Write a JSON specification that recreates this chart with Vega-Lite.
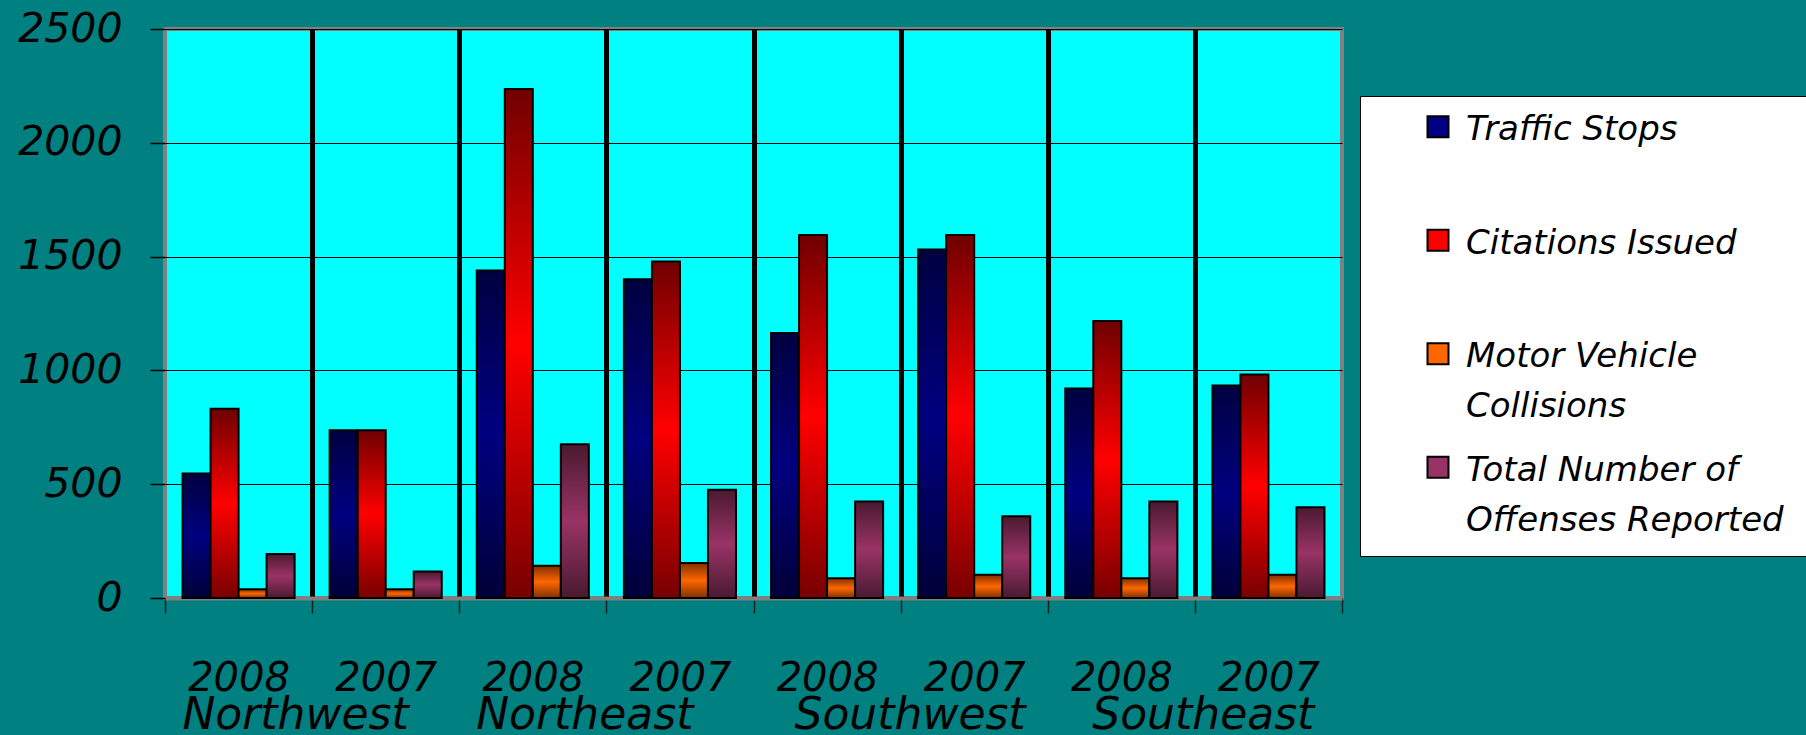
{
  "$schema": "https://vega.github.io/schema/vega-lite/v6.json",
  "autosize": {"type": "none"},
  "width": 1177,
  "height": 569,
  "padding": {"left": 165, "top": 29, "right": 464, "bottom": 137},
  "background": "#008080",
  "config": {
    "font": "DejaVu Sans",
    "view": {"fill": "#00FFFF", "stroke": "#808080", "strokeWidth": 4},
    "style": {"guide-label": {"lineHeight": 50}},
    "axisY": {
      "labelFontSize": 41, "labelFontStyle": "italic", "labelColor": "black", "labelPadding": 28,
      "tickSize": 15, "tickColor": "black", "tickWidth": 1.5, "domain": false,
      "grid": true, "gridColor": "black", "gridWidth": 1
    }
  },
  "data": {"values": [
    {"group": "Northwest|2008", "series": "Traffic Stops", "value": 547},
    {"group": "Northwest|2008", "series": "Citations Issued", "value": 831},
    {"group": "Northwest|2008", "series": "Motor Vehicle Collisions", "value": 38},
    {"group": "Northwest|2008", "series": "Total Number of Offenses Reported", "value": 193},
    {"group": "Northwest|2007", "series": "Traffic Stops", "value": 737},
    {"group": "Northwest|2007", "series": "Citations Issued", "value": 737},
    {"group": "Northwest|2007", "series": "Motor Vehicle Collisions", "value": 38},
    {"group": "Northwest|2007", "series": "Total Number of Offenses Reported", "value": 116},
    {"group": "Northeast|2008", "series": "Traffic Stops", "value": 1439},
    {"group": "Northeast|2008", "series": "Citations Issued", "value": 2236},
    {"group": "Northeast|2008", "series": "Motor Vehicle Collisions", "value": 142},
    {"group": "Northeast|2008", "series": "Total Number of Offenses Reported", "value": 675},
    {"group": "Northeast|2007", "series": "Traffic Stops", "value": 1401},
    {"group": "Northeast|2007", "series": "Citations Issued", "value": 1478},
    {"group": "Northeast|2007", "series": "Motor Vehicle Collisions", "value": 154},
    {"group": "Northeast|2007", "series": "Total Number of Offenses Reported", "value": 476},
    {"group": "Southwest|2008", "series": "Traffic Stops", "value": 1164},
    {"group": "Southwest|2008", "series": "Citations Issued", "value": 1595},
    {"group": "Southwest|2008", "series": "Motor Vehicle Collisions", "value": 87},
    {"group": "Southwest|2008", "series": "Total Number of Offenses Reported", "value": 424},
    {"group": "Southwest|2007", "series": "Traffic Stops", "value": 1531},
    {"group": "Southwest|2007", "series": "Citations Issued", "value": 1595},
    {"group": "Southwest|2007", "series": "Motor Vehicle Collisions", "value": 102},
    {"group": "Southwest|2007", "series": "Total Number of Offenses Reported", "value": 359},
    {"group": "Southeast|2008", "series": "Traffic Stops", "value": 920},
    {"group": "Southeast|2008", "series": "Citations Issued", "value": 1217},
    {"group": "Southeast|2008", "series": "Motor Vehicle Collisions", "value": 87},
    {"group": "Southeast|2008", "series": "Total Number of Offenses Reported", "value": 424},
    {"group": "Southeast|2007", "series": "Traffic Stops", "value": 934},
    {"group": "Southeast|2007", "series": "Citations Issued", "value": 982},
    {"group": "Southeast|2007", "series": "Motor Vehicle Collisions", "value": 102},
    {"group": "Southeast|2007", "series": "Total Number of Offenses Reported", "value": 399}
  ]},
  "resolve": {"axis": {"x": "independent"}},
  "layer": [
    {
      "mark": {"type": "bar"},
      "encoding": {
        "x": {"field": "group", "type": "nominal",
          "scale": {"domain": ["Northwest|2008","Northwest|2007","Northeast|2008","Northeast|2007","Southwest|2008","Southwest|2007","Southeast|2008","Southeast|2007"], "paddingInner": 0, "paddingOuter": 0},
          "axis": {"orient": "bottom", "title": null, "labelExpr": "split(datum.value, '|')[1]", "labelAngle": 0,
            "labelFontSize": 40, "labelFontStyle": "italic", "labelColor": "black", "labelPadding": 45, "labelLimit": 500,
            "tickBand": "extent", "ticks": true, "tickSize": 15, "tickColor": "#202020", "tickWidth": 1.5,
            "domain": true, "domainColor": "#808080", "domainWidth": 4,
            "grid": true, "gridColor": "black", "gridWidth": 5,
            "gridOpacity": {"condition": {"test": "datum.value != 'Southeast|2007' && !datum.extra && datum.index < 1", "value": 1}, "value": 0}}},
        "xOffset": {"field": "series", "type": "nominal",
          "scale": {"domain": ["Traffic Stops","Citations Issued","Motor Vehicle Collisions","Total Number of Offenses Reported"], "paddingInner": 0, "paddingOuter": 0.625}},
        "y": {"field": "value", "type": "quantitative", "scale": {"domain": [0, 2500], "nice": false},
          "axis": {"title": null, "values": [0, 500, 1000, 1500, 2000, 2500], "format": "d"}},
        "color": {"field": "series", "type": "nominal",
          "scale": {"domain": ["Traffic Stops","Citations Issued","Motor Vehicle Collisions","Total Number of Offenses Reported"], "range": ["#000080","#FF0000","#FF6600","#993366"]},
          "legend": {
            "orient": "none", "legendX": 1195, "legendY": 67,
            "title": "\u00a0", "titleOrient": "bottom", "titleFontSize": 8, "titlePadding": 10,
            "fillColor": "white", "strokeColor": "black", "padding": 0,
            "gridAlign": "all", "rowPadding": 12.5,
            "symbolType": "M-1,0.31H1V2.31H-1Z", "symbolSize": 441, "symbolStrokeColor": "black", "symbolStrokeWidth": 2, "symbolOpacity": 1, "symbolOffset": 61,
            "labelFont": "DejaVu Sans", "labelFontStyle": "italic", "labelFontSize": 34, "labelColor": "black",
            "labelBaseline": "top", "labelLimit": 700, "labelOffset": 11,
            "labelExpr": "datum.label == 'Motor Vehicle Collisions' ? ['Motor Vehicle', 'Collisions'] : datum.label == 'Total Number of Offenses Reported' ? ['Total Number of', 'Offenses Reported\u2800\u2800'] : datum.label"
          }}
      }
    },
    {
      "transform": [{"filter": {"field": "series", "equal": "Traffic Stops"}}],
      "mark": {"type": "bar", "stroke": "black", "strokeWidth": 2,
        "fill": {"gradient": "linear", "x1": 0, "y1": 0, "x2": 0, "y2": 1, "stops": [{"offset": 0, "color": "#000040"}, {"offset": 0.5, "color": "#000080"}, {"offset": 1, "color": "#000038"}]}},
      "encoding": {
        "x": {"field": "group", "type": "nominal",
          "scale": {"domain": ["Northwest|2008","Northwest|2007","Northeast|2008","Northeast|2007","Southwest|2008","Southwest|2007","Southeast|2008","Southeast|2007"], "paddingInner": 0, "paddingOuter": 0},
          "axis": {"orient": "bottom", "title": null, "labelExpr": "indexof(datum.value, '2008') >= 0 ? split(datum.value, '|')[0] : ''", "labelAngle": 0,
            "labelFontSize": 44, "labelFontStyle": "italic", "labelColor": "black", "labelPadding": 80, "labelLimit": 600, "labelOverlap": false,
            "labelOffset": {"condition": [
              {"test": "datum.value == 'Northwest|2008'", "value": 57},
              {"test": "datum.value == 'Northeast|2008'", "value": 52},
              {"test": "datum.value == 'Southwest|2008'", "value": 83}
            ], "value": 82},
            "ticks": true, "tickSize": 15, "tickOpacity": 0, "domain": false, "grid": false}},
        "xOffset": {"field": "series", "type": "nominal",
          "scale": {"domain": ["Traffic Stops","Citations Issued","Motor Vehicle Collisions","Total Number of Offenses Reported"], "paddingInner": 0, "paddingOuter": 0.625}},
        "y": {"field": "value", "type": "quantitative", "scale": {"domain": [0, 2500], "nice": false},
          "axis": {"title": null, "values": [0, 500, 1000, 1500, 2000, 2500], "format": "d"}}
      }
    },
    {
      "transform": [{"filter": {"field": "series", "equal": "Citations Issued"}}],
      "mark": {"type": "bar", "stroke": "black", "strokeWidth": 2,
        "fill": {"gradient": "linear", "x1": 0, "y1": 0, "x2": 0, "y2": 1, "stops": [{"offset": 0, "color": "#700000"}, {"offset": 0.5, "color": "#FF0000"}, {"offset": 1, "color": "#780000"}]}},
      "encoding": {
        "x": {"field": "group", "type": "nominal",
          "scale": {"domain": ["Northwest|2008","Northwest|2007","Northeast|2008","Northeast|2007","Southwest|2008","Southwest|2007","Southeast|2008","Southeast|2007"], "paddingInner": 0, "paddingOuter": 0},
          "axis": null},
        "xOffset": {"field": "series", "type": "nominal",
          "scale": {"domain": ["Traffic Stops","Citations Issued","Motor Vehicle Collisions","Total Number of Offenses Reported"], "paddingInner": 0, "paddingOuter": 0.625}},
        "y": {"field": "value", "type": "quantitative", "scale": {"domain": [0, 2500], "nice": false},
          "axis": {"title": null, "values": [0, 500, 1000, 1500, 2000, 2500], "format": "d"}}
      }
    },
    {
      "transform": [{"filter": {"field": "series", "equal": "Motor Vehicle Collisions"}}],
      "mark": {"type": "bar", "stroke": "black", "strokeWidth": 2,
        "fill": {"gradient": "linear", "x1": 0, "y1": 0, "x2": 0, "y2": 1, "stops": [{"offset": 0, "color": "#803000"}, {"offset": 0.5, "color": "#FF6600"}, {"offset": 1, "color": "#803000"}]}},
      "encoding": {
        "x": {"field": "group", "type": "nominal",
          "scale": {"domain": ["Northwest|2008","Northwest|2007","Northeast|2008","Northeast|2007","Southwest|2008","Southwest|2007","Southeast|2008","Southeast|2007"], "paddingInner": 0, "paddingOuter": 0},
          "axis": null},
        "xOffset": {"field": "series", "type": "nominal",
          "scale": {"domain": ["Traffic Stops","Citations Issued","Motor Vehicle Collisions","Total Number of Offenses Reported"], "paddingInner": 0, "paddingOuter": 0.625}},
        "y": {"field": "value", "type": "quantitative", "scale": {"domain": [0, 2500], "nice": false},
          "axis": {"title": null, "values": [0, 500, 1000, 1500, 2000, 2500], "format": "d"}}
      }
    },
    {
      "transform": [{"filter": {"field": "series", "equal": "Total Number of Offenses Reported"}}],
      "mark": {"type": "bar", "stroke": "black", "strokeWidth": 2,
        "fill": {"gradient": "linear", "x1": 0, "y1": 0, "x2": 0, "y2": 1, "stops": [{"offset": 0, "color": "#4A1A30"}, {"offset": 0.5, "color": "#993366"}, {"offset": 1, "color": "#4A1A30"}]}},
      "encoding": {
        "x": {"field": "group", "type": "nominal",
          "scale": {"domain": ["Northwest|2008","Northwest|2007","Northeast|2008","Northeast|2007","Southwest|2008","Southwest|2007","Southeast|2008","Southeast|2007"], "paddingInner": 0, "paddingOuter": 0},
          "axis": null},
        "xOffset": {"field": "series", "type": "nominal",
          "scale": {"domain": ["Traffic Stops","Citations Issued","Motor Vehicle Collisions","Total Number of Offenses Reported"], "paddingInner": 0, "paddingOuter": 0.625}},
        "y": {"field": "value", "type": "quantitative", "scale": {"domain": [0, 2500], "nice": false},
          "axis": {"title": null, "values": [0, 500, 1000, 1500, 2000, 2500], "format": "d"}}
      }
    }
  ]
}
